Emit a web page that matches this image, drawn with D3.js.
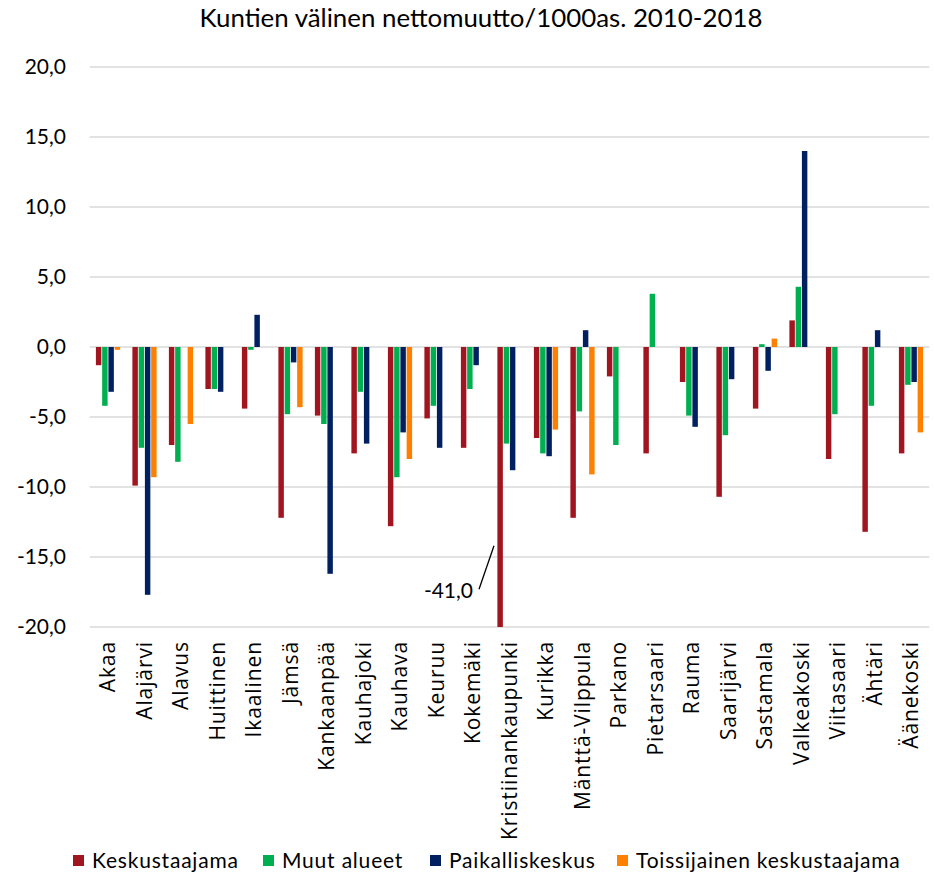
<!DOCTYPE html>
<html><head><meta charset="utf-8">
<script src="https://cdn.jsdelivr.net/npm/d3@7"></script>
<style>body{margin:0;background:#fff}svg{display:block}</style>
</head><body>
<svg id="chart" width="935" height="874"></svg>
<script>
const categories = ["Akaa","Alajärvi","Alavus","Huittinen","Ikaalinen","Jämsä","Kankaanpää","Kauhajoki","Kauhava","Keuruu","Kokemäki","Kristiinankaupunki","Kurikka","Mänttä-Vilppula","Parkano","Pietarsaari","Rauma","Saarijärvi","Sastamala","Valkeakoski","Viitasaari","Ähtäri","Äänekoski"];
const keskustaajama   = [-1.3,-9.9,-7.0,-3.0,-4.4,-12.2,-4.9,-7.6,-12.8,-5.1,-7.2,-41.0,-6.5,-12.2,-2.1,-7.6,-2.5,-10.7,-4.4,1.9,-8.0,-13.2,-7.6];
const muutAlueet      = [-4.2,-7.2,-8.2,-3.0,-0.2,-4.8,-5.5,-3.2,-9.3,-4.2,-3.0,-6.9,-7.6,-4.6,-7.0,3.8,-4.9,-6.3,0.2,4.3,-4.8,-4.2,-2.7];
const paikalliskeskus = [-3.2,-17.7,null,-3.2,2.3,-1.1,-16.2,-6.9,-6.1,-7.2,-1.3,-8.8,-7.8,1.2,null,null,-5.7,-2.3,-1.7,14.0,null,1.2,-2.5];
const toissijainen    = [-0.2,-9.3,-5.5,null,null,-4.3,null,null,-8.0,null,null,null,-5.9,-9.1,null,null,null,null,0.6,null,null,null,-6.1];
const seriesNames = ["Keskustaajama","Muut alueet","Paikalliskeskus","Toissijainen keskustaajama"];
const seriesColors = ["#A0151F","#00B050","#002060","#FF8000"];
const yTicks = [20,15,10,5,0,-5,-10,-15,-20];
const title = "Kuntien välinen nettomuutto/1000as. 2010-2018";
const calloutValue = -41.0;

const seriesValues = [keskustaajama, muutAlueet, paikalliskeskus, toissijainen];
const svg = d3.select("#chart");
const fmt = v => d3.format(".1f")(v).replace(".", ",").replace("−","-");

const x0 = d3.scaleBand().domain(categories).range([89.75, 929.25]).padding(0);
const groupW = 25;
const x1 = d3.scaleBand().domain(seriesNames).range([(x0.bandwidth()-groupW)/2, (x0.bandwidth()+groupW)/2]).padding(0);
const y = d3.scaleLinear().domain([-20, 20]).range([627, 67]).clamp(true);

// gridlines
svg.append("g").selectAll("line").data(yTicks).join("line")
  .attr("x1", x0.range()[0]).attr("x2", x0.range()[1])
  .attr("y1", d => y(d)).attr("y2", d => y(d))
  .attr("stroke", "#d9d9d9").attr("stroke-width", 1.5);

// y axis labels
const yAxis = d3.axisLeft(y).tickValues(yTicks).tickSize(0).tickPadding(0).tickFormat(fmt);
const gy = svg.append("g").attr("transform", "translate(66,0)").call(yAxis);
gy.select(".domain").remove();
gy.selectAll("text").attr("font-family", "Lato, 'Open Sans', sans-serif").attr("font-size", 21).attr("fill", "#000");

// bars
const flat = [];
categories.forEach((c, i) => seriesNames.forEach((s, j) => {
  const v = seriesValues[j][i];
  if (v !== null) flat.push({c, s, j, v});
}));
svg.append("g").selectAll("rect").data(flat).join("rect")
  .attr("x", d => x0(d.c) + x1(d.s) + 0.4)
  .attr("width", x1.bandwidth() - 0.8)
  .attr("y", d => Math.min(y(d.v), y(0)))
  .attr("height", d => Math.abs(y(d.v) - y(0)))
  .attr("fill", d => seriesColors[d.j]);

// x axis labels
const xAxis = d3.axisBottom(x0).tickSize(0).tickPadding(0);
const gx = svg.append("g").attr("transform", "translate(0,641)").call(xAxis);
gx.select(".domain").remove();
gx.selectAll("text")
  .attr("font-family", "'Open Sans', sans-serif").attr("font-size", 21).attr("fill", "#000")
  .attr("letter-spacing", "0.9px")
  .attr("text-anchor", "end").attr("transform", "rotate(-90)")
  .attr("x", 0).attr("y", 0).attr("dy", "0.35em");

// callout for the clipped bar
const ci = keskustaajama.indexOf(calloutValue);
const bx = x0(categories[ci]) + x1(seriesNames[0]);
svg.append("line").attr("x1", bx - 3).attr("y1", y(-14.2)).attr("x2", bx - 18).attr("y2", y(-17.3))
  .attr("stroke", "#000").attr("stroke-width", 1.3);
svg.append("text").attr("x", bx - 24).attr("y", y(-17.9)).attr("text-anchor", "end")
  .attr("font-family", "Lato, 'Open Sans', sans-serif").attr("font-size", 21).text(fmt(calloutValue));

// title
const t = svg.append("text").attr("x", 481).attr("y", 27).attr("text-anchor", "middle")
  .attr("font-family", "Lato, 'Open Sans', sans-serif").attr("font-size", 26).text(title);
const tw = t.node().getComputedTextLength();
t.attr("font-size", 26 * 563 / tw);

// legend
const legendX = [73, 263, 430, 617];
const lg = svg.append("g").selectAll("g").data(seriesNames).join("g")
  .attr("transform", (d, i) => `translate(${legendX[i]},861)`);
lg.append("rect").attr("x", 0).attr("y", -6).attr("width", 11).attr("height", 11).attr("fill", (d, i) => seriesColors[i]);
lg.append("text").attr("x", 19).attr("y", 0).attr("dy", "0.35em")
  .attr("font-family", "Lato, 'Open Sans', sans-serif").attr("font-size", 21)
  .attr("letter-spacing", "0.8px").text(d => d);
</script>
</body></html>
